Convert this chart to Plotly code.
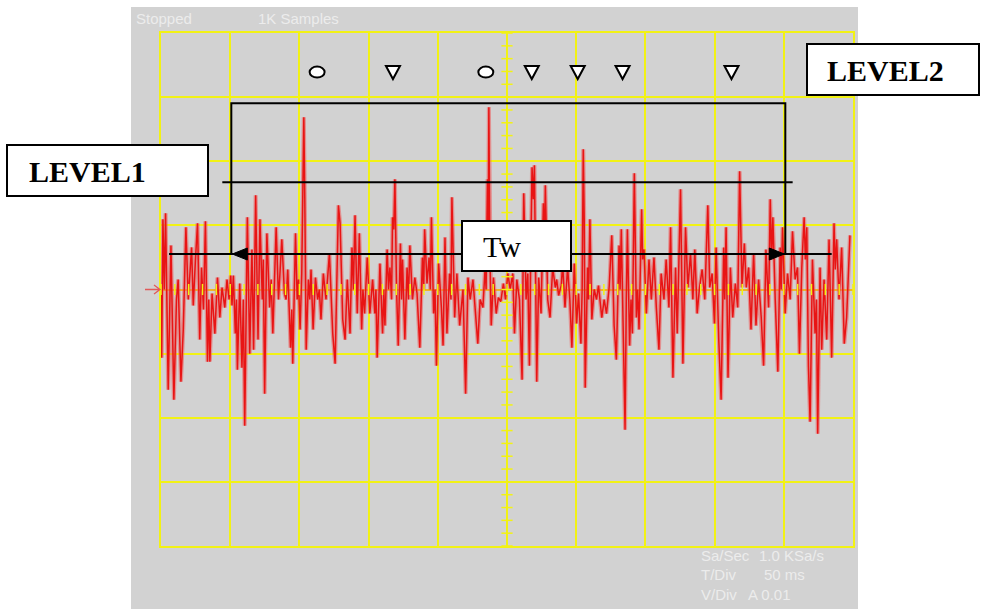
import numpy as np
import plotly.graph_objects as go

# ---------------- data ----------------
# time in ms (T/Div 50 ms, 10 divisions), amplitude in ADC counts (32 counts / division)
trace_t_ms = [
    0.0, 0.5, 1.4, 2.4, 3.3, 5.2, 7.2, 9.3, 11.2, 12.4, 14.4, 16.1, 18.0, 19.7, 22.1, 23.3,
    24.9, 26.4, 28.0, 29.3, 30.7, 32.1, 33.6, 34.5, 35.3, 36.9, 38.9, 40.8, 42.5, 44.1, 46.1,
    47.7, 49.2, 50.4, 51.3, 52.3, 53.7, 54.5, 55.2, 56.9, 58.5, 59.5, 60.5, 61.7, 62.4, 64.1,
    65.7, 66.9, 68.4, 70.1, 71.5, 73.2, 73.9, 74.9, 76.5, 78.5, 79.6, 80.8, 83.2, 84.9, 86.1,
    87.3, 89.2, 90.4, 91.6, 93.6, 94.5, 95.2, 97.2, 98.4, 99.3, 100.5, 101.7, 102.7, 103.2,
    103.9, 104.9, 106.5, 107.5, 108.4, 109.9, 111.6, 113.2, 114.4, 115.6, 117.3, 119.2, 121.7,
    124.1, 125.8, 127.0, 128.2, 129.4, 131.3, 133.0, 134.6, 136.6, 138.0, 139.0, 140.2, 141.8,
    143.3, 145.0, 145.9, 147.1, 149.0, 150.9, 152.9, 154.5, 155.3, 156.2, 158.2, 160.1, 161.0,
    161.8, 163.4, 164.4, 165.4, 166.6, 167.3, 168.2, 169.0, 170.2, 171.4, 173.0, 173.8, 174.5,
    176.2, 177.8, 178.8, 179.8, 181.7, 183.4, 185.0, 187.0, 188.9, 189.8, 190.5, 192.2, 193.7,
    194.6, 195.4, 197.0, 198.0, 199.0, 200.6, 202.6, 203.8, 205.2, 206.6, 208.5, 209.5, 210.2,
    212.2, 213.8, 215.8, 218.2, 220.1, 221.8, 223.4, 225.4, 227.0, 228.9, 230.6, 232.6, 234.2,
    234.9, 235.9, 236.4, 236.9, 237.6, 238.6, 240.2, 242.2, 243.8, 245.5, 247.4,
    248.9, 250.6, 252.3, 254.2, 255.4, 257.1, 259.0, 260.9, 262.1, 263.8, 265.0, 266.2, 267.1,
    268.1, 269.0, 269.8, 271.5, 272.9, 274.6, 276.3, 277.0, 277.7, 279.4, 281.1, 283.0, 284.9,
    285.9, 287.3, 289.2, 290.2, 291.9, 293.8, 295.4, 296.9, 298.6, 300.3, 301.7, 303.4, 304.3,
    305.1, 305.8, 306.5, 308.2, 308.9, 309.9, 311.3, 313.0, 314.7, 316.1, 318.5, 320.2, 321.9,
    323.8, 325.7, 327.4, 329.0, 331.0, 331.7, 332.6, 334.1, 335.3, 336.2, 337.0, 338.6, 339.6,
    340.6, 342.0, 343.5, 344.4, 345.4, 347.3, 348.0, 349.0, 350.7, 352.6, 354.3, 356.2, 357.9,
    359.8, 361.4, 363.4, 365.0, 367.0, 368.2, 369.9, 371.8,
    373.0, 375.4, 377.1, 379.0, 380.7, 382.6, 384.3, 385.7, 387.4, 389.1, 391.0, 392.9, 395.1,
    396.5, 398.2, 399.9, 401.1, 403.0, 404.7, 406.6, 407.3, 408.3, 409.7, 411.4, 413.1, 415.0,
    416.7, 418.1, 419.8, 421.5, 422.9, 424.6, 426.3, 428.2, 429.9, 431.8, 433.7, 435.4, 437.1,
    439.0, 440.2, 441.2, 442.1, 443.8, 445.7, 447.4, 448.1, 449.1, 451.0, 452.7, 454.6, 456.3,
    458.2, 459.9, 461.3, 463.0, 464.7, 465.6, 466.6, 467.8, 469.0, 470.7, 472.6, 473.6, 474.5,
    476.2, 477.4, 479.1, 481.0, 482.7, 484.6, 486.3, 487.2, 488.2, 489.9, 491.8, 493.7, 495.4,
    496.6, 497.8,
]
trace_counts = [
    0, -34, 35, 0, 38, -50, 22, -55, -5, 5, -46, -20, 31, -5, 21, -8,
    15, 33, -25, 11, -10, 34, -36, -5, -36, -2, -22, 6, -14, 1, -9,
    5, -5, 7, -8, 7, -22, -5, -40, 3, -39, -5, -68, -5, 36, -32,
    20, -30, 47, -25, 35, -5, 15, -52, 28, -9, 5, -22, 31, -5, 10,
    25, -2, -5, 10, -29, -10, -37, 28, -5, 5, -20, 8, 55, 86,
    45, -30, 5, -5, 10, -20, 6, -5, 0, -15, 8, -5, 18,
    -22, -37, 0, 42, 33, -15, -25, 5, -22, 21, 0, 37, -12,
    28, -20, 0, -12, 16, -12, 5, -12, 0, -34, 13, -22, 0,
    -18, 20, 0, 11, -5, 36, 30, 55, 0, -28, 23, -5, 15,
    -25, 11, -5, 22, -5, 6, -2, -29, 16, 0, 30, 3, 16,
    0, 36, -12, 0, -38, 13, -9, -28, 26, -22, 8, -5, 46,
    -14, 8, -18, 0, -52, 6, -5, 5, -12, -27, -5, -9, 11,
    0, 55, 15, 91, 20, -18, 6, -12, -4, -6, 3,
    -5, 8, 0, 8, -22, 5, -5, -45, 48, -5, 8, -38, 15,
    61, 45, 62, -46, 6, -12, 43, 15, 52, -5, -14, 11, 1,
    5, -3, 2, 13, -9, 11, -5, -29, 13, -17, -2, -27, 0,
    70, 35, -49, 11, -5, 35, -15, 0, -5, 2, -14, -5, -12,
    1, 27, -18, -35, 22, 0, 30, -38, -70, -5, 30, -28, -5,
    -22, 58, -14, 0, -20, 40, 15, 20, -12, 15, -5, 16, -9,
    -30, 8, -5, 15, -9, 31, -44, 11,
    -22, 50, -37, 31, 1, 18, -5, 20, -12, 1, 10, -5, 42,
    1, 8, -17, 21, -25, -55, 21, -5, 31, -44, 11, -14, 3,
    -9, 59, 1, 23, 1, 11, -20, 18, -18, 5, -14, -38, 20,
    -9, 45, 15, 36, -5, -41, 21, 0, 31, -12, 8, -5, 29,
    5, 11, -32, 11, 36, 15, 31, -38, -66, 15, -22, -5, -72,
    11, -30, 5, -25, 25, -34, 33, 10, 25, -5, 21, -27, -14,
    5, 27,
]

# threshold levels / window (counts, ms)
level1_counts = 53.5
level2_counts = 93.0
tw_counts = 17.7
window_start_ms = 50.8
window_end_ms = 451.1
level1_line_ms = [44.3, 456.4]
tw_line_ms = [5.8, 484.6]

# event markers in the top row
marker_row_counts = 108.5
circle_times_ms = [112.8, 234.7]
triangle_times_ms = [167.6, 267.9, 301.1, 333.5, 412.2]

screen_top_labels = ["Stopped", "1K Samples"]
screen_info_names = ["Sa/Sec", "T/Div", "V/Div"]
screen_info_values = ["1.0 KSa/s", "50 ms", "A 0.01"]

# ---------------- layout geometry ----------------
W, H = 982, 609
ML, MT = 161, 33
PW, PH = 692, 513
MR = W - ML - PW
MB = H - MT - PH


def px(x):  # screen pixel x -> paper
    return (x - ML) / PW


def py(y):  # screen pixel y -> paper
    return (MT + PH - y) / PH


GRAY = "#d2d2d2"
YELLOW = "#f2f214"
ORANGE = "#f0b428"

fig = go.Figure()

# signal trace: soft halo + core
fig.add_trace(go.Scatter(x=trace_t_ms, y=trace_counts, mode="lines",
                         line=dict(color="rgba(238,90,90,0.55)", width=4),
                         hoverinfo="skip", showlegend=False))
fig.add_trace(go.Scatter(x=trace_t_ms, y=trace_counts, mode="lines",
                         line=dict(color="#e81414", width=1.5),
                         hoverinfo="skip", showlegend=False))

# center-line minor ticks (1/5 division)
vt = np.arange(-20, 21) * 32 / 5
ht = np.arange(0, 51) * 10
fig.add_trace(go.Scatter(x=[250] * len(vt), y=vt, mode="markers",
                         marker=dict(symbol="line-ew", size=8, line=dict(color=YELLOW, width=1.5)),
                         hoverinfo="skip", showlegend=False))
fig.add_trace(go.Scatter(x=ht, y=[0] * len(ht), mode="markers",
                         marker=dict(symbol="line-ns", size=8, line=dict(color=YELLOW, width=1.5)),
                         hoverinfo="skip", showlegend=False))

shapes = []
# oscilloscope screen background
shapes.append(dict(type="rect", xref="paper", yref="paper", layer="below",
                   x0=px(131), x1=px(858), y0=py(625), y1=py(7),
                   fillcolor=GRAY, line=dict(width=0)))

BL = dict(color="black", width=2)
# LEVEL2 window box (open at bottom)
shapes.append(dict(type="path", xref="x", yref="y",
                   path=f"M{window_start_ms},{tw_counts} L{window_start_ms},{level2_counts} "
                        f"L{window_end_ms},{level2_counts} L{window_end_ms},{tw_counts}",
                   line=BL))
# LEVEL1 line
shapes.append(dict(type="line", xref="x", yref="y", x0=level1_line_ms[0], x1=level1_line_ms[1],
                   y0=level1_counts, y1=level1_counts, line=BL))
# Tw line
shapes.append(dict(type="line", xref="x", yref="y", x0=tw_line_ms[0], x1=tw_line_ms[1],
                   y0=tw_counts, y1=tw_counts, line=BL))
# arrowheads
shapes.append(dict(type="path", xref="x", yref="y", xsizemode="pixel", ysizemode="pixel",
                   xanchor=window_start_ms, yanchor=tw_counts,
                   path="M1,0 L16,6 L16,-6 Z", fillcolor="black", line=dict(color="black", width=1)))
shapes.append(dict(type="path", xref="x", yref="y", xsizemode="pixel", ysizemode="pixel",
                   xanchor=window_end_ms, yanchor=tw_counts,
                   path="M-1,0 L-16,6 L-16,-6 Z", fillcolor="black", line=dict(color="black", width=1)))

# event markers
for t in circle_times_ms:
    shapes.append(dict(type="circle", xref="x", yref="y", xsizemode="pixel", ysizemode="pixel",
                       xanchor=t, yanchor=marker_row_counts, x0=-7.5, x1=7.5, y0=-5.5, y1=5.5,
                       fillcolor="white", line=BL))
for t in triangle_times_ms:
    shapes.append(dict(type="path", xref="x", yref="y", xsizemode="pixel", ysizemode="pixel",
                       xanchor=t, yanchor=marker_row_counts,
                       path="M-7,6 L7,6 L0,-7 Z", fillcolor="white", line=BL))

# label boxes
for (x0, y0, x1, y1) in [(7, 145, 208, 196), (807, 44, 979, 95), (462, 221, 571, 271)]:
    shapes.append(dict(type="rect", xref="paper", yref="paper",
                       x0=px(x0), x1=px(x1), y0=py(y1), y1=py(y0),
                       fillcolor="white", line=BL))

# red trigger arrow at left
shapes.append(dict(type="path", xref="paper", yref="paper",
                   path=f"M{px(145)},{py(289.5)} L{px(160)},{py(289.5)} "
                        f"M{px(154)},{py(285)} L{px(160)},{py(289.5)} L{px(154)},{py(294)}",
                   line=dict(color="#e05a5a", width=1.3)))

annotations = []
SERIF = "Liberation Serif, Times New Roman, serif"
annotations.append(dict(xref="paper", yref="paper", x=px(27), y=py(171), xanchor="left", yanchor="middle",
                        text="<b>LEVEL1</b>", showarrow=False,
                        font=dict(family=SERIF, size=30, color="black")))
annotations.append(dict(xref="paper", yref="paper", x=px(825), y=py(70), xanchor="left", yanchor="middle",
                        text="<b>LEVEL2</b>", showarrow=False,
                        font=dict(family=SERIF, size=30, color="black")))
annotations.append(dict(xref="paper", yref="paper", x=px(481), y=py(246), xanchor="left", yanchor="middle",
                        text="Tw", showarrow=False,
                        font=dict(family=SERIF, size=30, color="black")))

SANS = "Liberation Sans, Arial, sans-serif"
SCR = "#ececec"
for txt, x in zip(screen_top_labels, [134, 256]):
    annotations.append(dict(xref="paper", yref="paper", x=px(x), y=py(18), xanchor="left", yanchor="middle",
                            text=txt, showarrow=False, font=dict(family=SANS, size=15, color=SCR)))
for name, val, y, xv in zip(screen_info_names, screen_info_values, [555, 574.5, 594], [757, 762, 746]):
    annotations.append(dict(xref="paper", yref="paper", x=px(699), y=py(y), xanchor="left", yanchor="middle",
                            text=name, showarrow=False, font=dict(family=SANS, size=15, color=SCR)))
    annotations.append(dict(xref="paper", yref="paper", x=px(xv), y=py(y), xanchor="left", yanchor="middle",
                            text=val, showarrow=False, font=dict(family=SANS, size=15, color=SCR)))

fig.update_layout(
    width=W, height=H,
    margin=dict(l=ML, r=MR, t=MT, b=MB, pad=0),
    paper_bgcolor="white", plot_bgcolor=GRAY,
    shapes=shapes, annotations=annotations,
    showlegend=False,
    xaxis=dict(range=[0, 500], dtick=50, tick0=0, showgrid=True, gridcolor=YELLOW, gridwidth=2,
               zeroline=False, showline=True, mirror=True, linecolor=YELLOW, linewidth=2,
               showticklabels=False, ticks="", fixedrange=True),
    yaxis=dict(range=[-128, 128], dtick=32, tick0=0, showgrid=True, gridcolor=YELLOW, gridwidth=2,
               zeroline=True, zerolinecolor=ORANGE, zerolinewidth=2,
               showline=True, mirror=True, linecolor=YELLOW, linewidth=2,
               showticklabels=False, ticks="", fixedrange=True),
)

fig.write_html("out.html", config={"displayModeBar": False},
               post_script="document.body.style.margin='0px';document.body.style.overflow='hidden';")
